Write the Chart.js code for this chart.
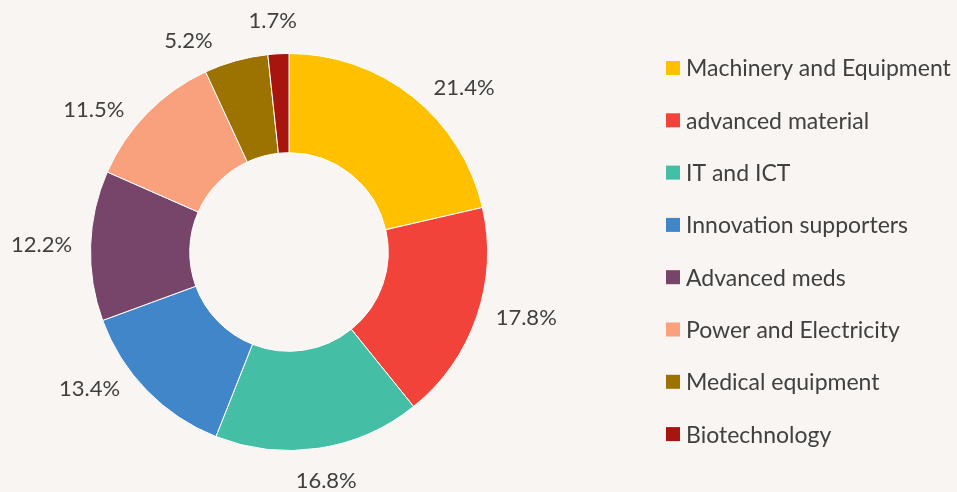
<!DOCTYPE html>
<html>
<head>
<meta charset="utf-8">
<script src="https://cdn.jsdelivr.net/npm/chart.js@4.4.1/dist/chart.umd.min.js"></script>
<style>
  html, body { margin: 0; padding: 0; background: #f8f5f2; }
  #wrap { width: 957px; height: 492px; position: relative; }
</style>
</head>
<body>
<div id="wrap"><canvas id="chart"></canvas></div>
<script>
const categories = [
  "Machinery and Equipment",
  "advanced material",
  "IT and ICT",
  "Innovation supporters",
  "Advanced meds",
  "Power and Electricity",
  "Medical equipment",
  "Biotechnology"
];
const shares = [21.4, 17.8, 16.8, 13.4, 12.2, 11.5, 5.2, 1.7];
const colors = ["#ffc000", "#f2433a", "#45bea6", "#4186c8", "#764569", "#f9a17d", "#9c7300", "#a8150f"];

const FONT = "Lato, 'Noto Sans', sans-serif";
const TEXT = "#404040";

// small angle nudges (degrees) so labels sit where the original placed them
const labelNudge = [6.5, -2.5, 0, 8, 0, -6.5, -8.5, -0.7];

// percentage labels outside each slice, on an ellipse around the ring
const outsideLabels = {
  id: "outsideLabels",
  afterDatasetsDraw(chart) {
    const ctx = chart.ctx;
    const meta = chart.getDatasetMeta(0);
    ctx.save();
    ctx.font = "22px " + FONT;
    ctx.fillStyle = TEXT;
    ctx.textAlign = "center";
    ctx.textBaseline = "middle";
    meta.data.forEach((arc, i) => {
      const mid = (arc.startAngle + arc.endAngle) / 2 + labelNudge[i] * Math.PI / 180;
      const rx = arc.outerRadius + 49;
      const ry = arc.outerRadius + 33;
      const x = arc.x + Math.cos(mid) * rx;
      const y = arc.y + Math.sin(mid) * ry;
      ctx.fillText(shares[i].toFixed(1) + "%", x, y);
    });
    ctx.restore();
  }
};

// legend on the right
const sideLegend = {
  id: "sideLegend",
  afterDraw(chart) {
    const ctx = chart.ctx;
    ctx.save();
    ctx.font = "23px " + FONT;
    ctx.textBaseline = "middle";
    categories.forEach((name, i) => {
      const y = 68 + i * 52.3;
      ctx.fillStyle = colors[i];
      ctx.fillRect(666, y - 7, 14, 14);
      ctx.fillStyle = TEXT;
      ctx.fillText(name, 686, y + 1);
    });
    ctx.restore();
  }
};

new Chart(document.getElementById("chart"), {
  type: "doughnut",
  data: {
    labels: categories,
    datasets: [{
      data: shares,
      backgroundColor: colors,
      borderColor: "#ffffff",
      borderWidth: 1
    }]
  },
  options: {
    responsive: true,
    maintainAspectRatio: false,
    animation: false,
    cutout: "50%",
    layout: { padding: { left: 90, right: 469, top: 53, bottom: 41 } },
    plugins: {
      legend: { display: false },
      tooltip: { enabled: false }
    }
  },
  plugins: [outsideLabels, sideLegend]
});
</script>
</body>
</html>
